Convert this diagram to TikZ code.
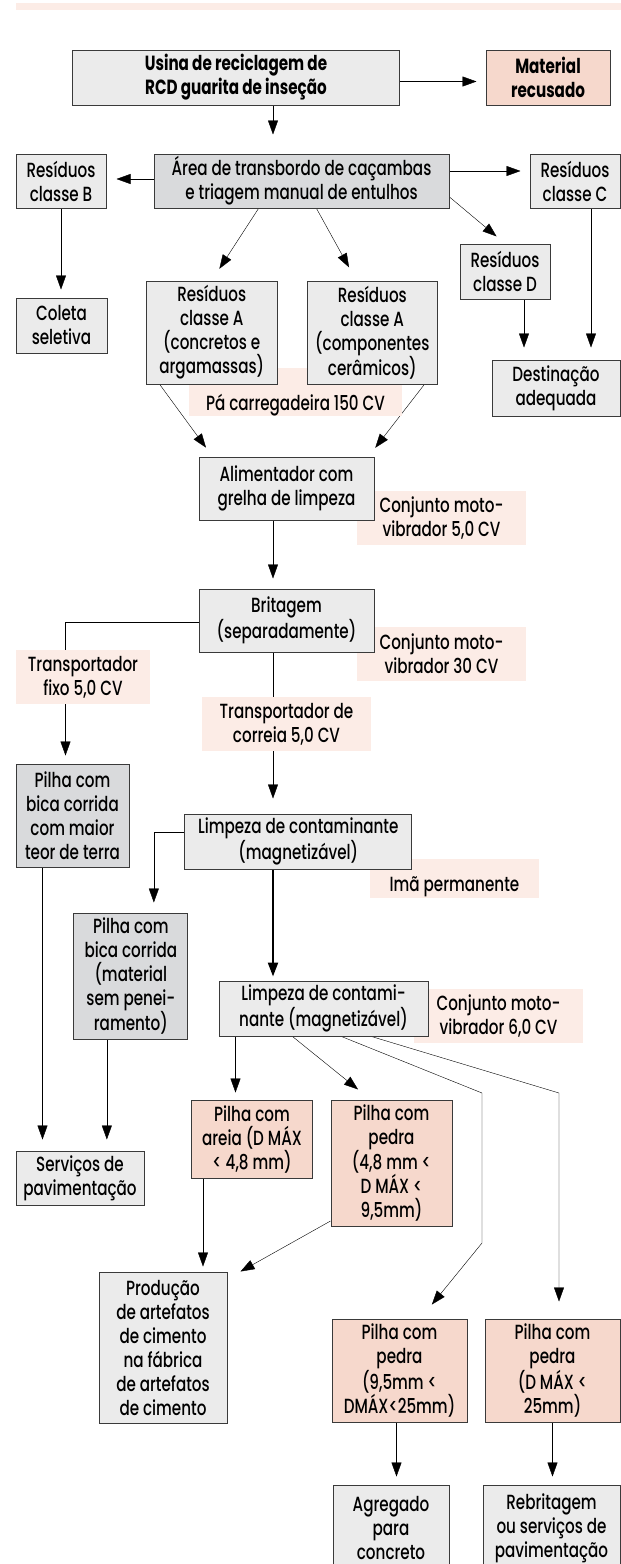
\documentclass[tikz,border=0pt]{standalone}
\usepackage{fontspec}
\setmainfont{Poppins}[FakeStretch=0.74, UprightFont=* Medium, BoldFont=* Bold]
\usetikzlibrary{arrows.meta}

\definecolor{boxgray}{HTML}{EBEBEB}
\definecolor{boxdark}{HTML}{D9DADC}
\definecolor{salmon}{HTML}{F6D8CC}
\definecolor{tagpink}{HTML}{FCECE6}
\definecolor{edgegray}{HTML}{3A3A3A}

\pgfdeclarelayer{lines}
\pgfsetlayers{lines,main}

\begin{document}
\begin{tikzpicture}[x=1pt, y=-1pt, line width=1.2pt, >={Triangle[length=14pt, width=10pt]},
    font=\fontsize{20.5}{24}\selectfont,
    box/.style={draw=edgegray, line width=1pt, fill=boxgray, align=center, inner sep=0pt},
    darkbox/.style={box, fill=boxdark},
    pilebox/.style={box, fill=salmon},
    tag/.style={fill=tagpink, align=center, inner sep=0pt},
    strong/.style={font=\fontsize{20.5}{24}\selectfont\bfseries},
    boxsize/.style 2 args={minimum width=#1, minimum height=#2},
    flow/.style={->, shorten >=9pt}]
    \useasboundingbox (0,0) rectangle (621,1564);
    \fill[tagpink] (16,3) rectangle (621,9.5);

    % Labels (behind the boxes)
    \node[tag, boxsize={213pt}{48pt}, text height=39pt, text depth=3pt] (pa) at (295.5,392) {Pá carregadeira 150 CV};
    \node[tag, boxsize={169pt}{54pt}] (conjA) at (441.5,518) {Conjunto moto-\\vibrador 5,0 CV};
    \node[tag, boxsize={169pt}{54pt}] (conjB) at (441.5,654) {Conjunto moto-\\vibrador 30 CV};
    \node[tag, boxsize={134pt}{54pt}] (fixo) at (83,677) {Transportador\\fixo 5,0 CV};
    \node[tag, boxsize={169pt}{54pt}] (correia) at (286.5,724) {Transportador de\\correia 5,0 CV};
    \node[tag, boxsize={169pt}{39pt}, text height=32pt, text depth=7pt] (magnet) at (454.5,878.5) {Imã permanente};
    \node[tag, boxsize={169pt}{54pt}] (conjC) at (498.5,1016) {Conjunto moto-\\vibrador 6,0 CV};

    % Nodes
    \node[box, strong, boxsize={327pt}{55pt}] (usina) at (236,77.5) {Usina de reciclagem de\\RCD guarita de inseção};
    \node[pilebox, strong, boxsize={124pt}{55pt}] (recusado) at (548,77.5) {Material\\recusado};
    \node[darkbox, boxsize={295pt}{54pt}] (triagem) at (301.5,181) {Área de transbordo de caçambas\\e triagem manual de entulhos};
    \node[box, boxsize={90pt}{54pt}] (resB) at (61,181) {Resíduos\\classe B};
    \node[box, boxsize={90pt}{54pt}] (resC) at (575,181) {Resíduos\\classe C};
    \node[box, boxsize={90pt}{55pt}] (resD) at (505,271.5) {Resíduos\\classe D};
    \node[box, boxsize={91pt}{55pt}] (coleta) at (61.5,325.5) {Coleta\\seletiva};
    \node[box, boxsize={128pt}{56pt}] (destino) at (556,388) {Destinação\\adequada};
    \node[box, boxsize={130.5pt}{103pt}] (resA1) at (211.75,332.5) {Resíduos\\classe A\\(concretos e\\argamassas)};
    \node[box, boxsize={130.5pt}{103pt}] (resA2) at (372.3,332.5) {Resíduos\\classe A\\(componentes\\cerâmicos)};
    \node[box, boxsize={175pt}{63pt}] (alim) at (286.5,488.5) {Alimentador com\\grelha de limpeza};
    \node[box, boxsize={175pt}{63pt}] (brit) at (286.5,620.5) {Britagem\\(separadamente)};
    \node[darkbox, boxsize={113pt}{103pt}] (pileSoil) at (72.5,815.5) {Pilha com\\bica corrida\\com maior\\teor de terra};
    \node[box, boxsize={227pt}{55pt}] (clean1) at (298.3,841.5) {Limpeza de contaminante\\(magnetizável)};
    \node[darkbox, boxsize={114pt}{126pt}] (pileRaw) at (130.85,976) {Pilha com\\bica corrida\\(material\\sem penei-\\ramento)};
    \node[box, boxsize={209pt}{55pt}] (clean2) at (323.5,1008.5) {Limpeza de contami-\\nante (magnetizável)};
    \node[box, boxsize={128pt}{54pt}] (paving) at (80,1178) {Serviços de\\pavimentação};
    \node[pilebox, boxsize={121pt}{78pt}] (sand) at (252,1139) {Pilha com\\areia (D MÁX\\< 4,8 mm)};
    \node[pilebox, boxsize={121pt}{126pt}] (stoneA) at (391.5,1163) {Pilha com\\pedra\\(4,8 mm <\\D MÁX <\\9,5mm)};
    \node[box, boxsize={128pt}{151pt}] (product) at (163,1347.5) {Produção\\de artefatos\\de cimento\\na fábrica\\de artefatos\\de cimento};
    \node[pilebox, boxsize={135pt}{103pt}] (stoneB) at (399.5,1370.5) {Pilha com\\pedra\\(9,5mm <\\DMÁX<25mm)};
    \node[pilebox, boxsize={135pt}{103pt}] (stoneC) at (552.5,1370.5) {Pilha com\\pedra\\(D MÁX <\\25mm)};
    \node[box, boxsize={116pt}{86pt}] (aggregate) at (391,1528) {Agregado\\para\\concreto};
    \node[box, boxsize={137pt}{86pt}] (recrush) at (551.5,1528) {Rebritagem\\ou serviços de\\pavimentação};

    \coordinate (spine) at (273,0);
    \coordinate (bendB) at (482,1093);
    \coordinate (kneeB) at (482,1243);
    \coordinate (bendC) at (559,1093);

    % Flows
    \begin{pgfonlayer}{lines}
    \draw[flow] ([yshift=-4pt]usina.east) -- ([yshift=-4pt]recusado.west);
    \draw[flow, shorten >=19pt] (usina.south -| spine) -- (triagem.north -| spine);
    \draw[flow, shorten >=10pt] ([yshift=2pt]triagem.west) -- ([yshift=2pt]resB.east);
    \draw[flow] ([yshift=10pt]triagem.east) -- ([yshift=10pt]resC.west);
    \draw[flow, shorten >=11pt] ([yshift=-16pt]triagem.east) -- (resD.north);
    \draw[flow, shorten >=14pt] ([xshift=-43pt]triagem.south) -- (resA1.north);
    \draw[flow, shorten >=15pt] ([xshift=15pt]triagem.south) -- ([xshift=-16pt]resA2.north);
    \draw[flow, shorten >=8pt] (resB.south) -- (resB.south |- coleta.north);
    \draw[flow, shorten >=12pt] ([xshift=19pt]resD.south) -- ([xshift=19pt]resD.south |- destino.north);
    \draw[flow, shorten >=12pt] ([xshift=16pt]resC.south) -- ([xshift=16pt]resC.south |- destino.north);
    \draw[flow, shorten >=11pt] (resA1.225) -- ([xshift=-74pt]alim.north);
    \draw[flow, shorten >=11pt] (resA2.-45) -- ([xshift=82pt]alim.north);
    \draw[flow, shorten >=10pt] (alim.south -| spine) -- (brit.north -| spine);
    \draw[flow, shorten >=8pt] ([yshift=-2pt]brit.west) -| ([xshift=-7pt]pileSoil.north);
    \draw[flow, shorten >=15pt] (brit.south -| spine) -- (clean1.north -| spine);
    \draw[flow, shorten >=10pt] ([yshift=9pt]clean1.west) -| ([xshift=23pt]pileRaw.north);
    \draw[flow, line width=2.2pt, shorten >=4pt] (clean1.south -| spine) -- (clean2.north -| spine);
    \draw[flow, shorten >=11pt] ([xshift=-30pt]pileSoil.south) -- ([xshift=-30pt]pileSoil.south |- paving.north);
    \draw[flow, shorten >=11pt] ([xshift=-24pt]pileRaw.south) -- ([xshift=-24pt]pileRaw.south |- paving.north);
    \draw[flow, shorten >=7pt] ([xshift=-88pt]clean2.south) -- ([xshift=-88pt]clean2.south |- sand.north);
    \draw[flow, shorten >=16pt] ([xshift=-31pt]clean2.south) -- ([xshift=-21pt]stoneA.north);
    \draw[flow, shorten >=18pt] ([xshift=18pt]clean2.south) -- (bendB) -- (kneeB) -- ([xshift=21pt]stoneB.north);
    \draw[flow, shorten >=17pt] ([xshift=48pt]clean2.south) -- (bendC) -- (bendC |- stoneC.north);
    \draw[flow, shorten >=5pt] ([xshift=-49pt]sand.south) -- ([xshift=-49pt]sand.south |- product.north);
    \draw[flow, shorten >=0pt] ([yshift=-58pt]stoneA.west) -- ([xshift=13pt]product.north east);
    \draw[flow, shorten >=8pt] ([xshift=-3pt]stoneB.south) -- ([xshift=-3pt]stoneB.south |- aggregate.north);
    \draw[flow, shorten >=8pt] (stoneC.south) -- (stoneC.south |- recrush.north);
    \end{pgfonlayer}
\end{tikzpicture}
\end{document}
